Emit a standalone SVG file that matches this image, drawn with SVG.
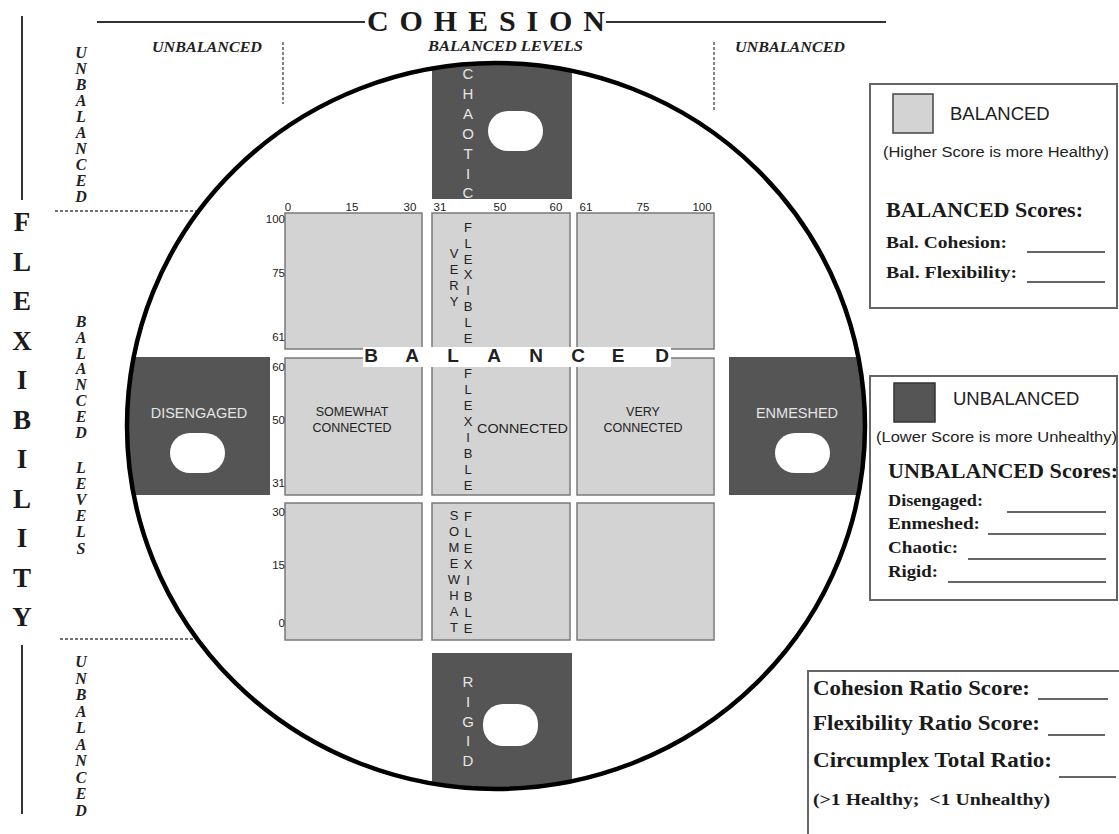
<svg xmlns="http://www.w3.org/2000/svg" width="1119" height="834" viewBox="0 0 1119 834">
<style>
.serif{font-family:"Liberation Serif","Times New Roman",serif;font-weight:bold;fill:#1a1a1a}
.it{font-family:"Liberation Serif","Times New Roman",serif;font-weight:bold;font-style:italic;fill:#222;font-size:15px}
.vit{font-family:"Liberation Serif","Times New Roman",serif;font-weight:bold;font-style:italic;fill:#222;font-size:16px}
.sans{font-family:"Liberation Sans",Arial,sans-serif;fill:#222}
.num{font-family:"Liberation Sans",Arial,sans-serif;fill:#222;font-size:11.5px}
.lt{font-family:"Liberation Sans",Arial,sans-serif;fill:#e4e4e4}
.cell{fill:#d3d3d3;stroke:#7a7a7a;stroke-width:1.5}
.dark{fill:#555555}
.hole{fill:#ffffff}
.dash{stroke:#444;stroke-width:1.3;stroke-dasharray:3,2;fill:none}
.rule{stroke:#333;stroke-width:2;fill:none}
.box{fill:#ffffff;stroke:#666;stroke-width:2}
.blank{stroke:#333;stroke-width:1.3}
</style>
<defs>
<clipPath id="circ"><ellipse cx="496" cy="426" rx="369" ry="363"/></clipPath>
</defs>
<rect width="1119" height="834" fill="#ffffff"/>

<!-- Axis titles -->
<g id="cohesion-title">
<line class="rule" x1="97" y1="22" x2="365" y2="22"/>
<line class="rule" x1="606" y1="22" x2="886" y2="22"/>
<text class="serif" x="367" y="31" font-size="30" textLength="238" lengthAdjust="spacing">COHESION</text>
</g>
<g id="cohesion-levels">
<text class="it" x="152" y="52" textLength="110" lengthAdjust="spacingAndGlyphs">UNBALANCED</text>
<text class="it" x="428" y="51" textLength="155" lengthAdjust="spacingAndGlyphs">BALANCED LEVELS</text>
<text class="it" x="735" y="52" textLength="110" lengthAdjust="spacingAndGlyphs">UNBALANCED</text>
<line class="dash" x1="283" y1="42" x2="283" y2="104"/>
<line class="dash" x1="714" y1="42" x2="714" y2="112"/>
</g>
<g id="flexibility-title">
<line class="rule" x1="22" y1="16" x2="22" y2="200"/>
<line class="rule" x1="22" y1="645" x2="22" y2="814" stroke="#666"/>
<text class="serif" font-size="27" text-anchor="middle" x="22 22 22 22 22 22 22 22 22 22 22" y="231 270.5 310 349.5 389 428.5 468 507.5 547 586.5 626">FLEXIBILITY</text>
</g>
<g id="flexibility-levels">
<text class="vit" text-anchor="middle" x="81 81 81 81 81 81 81 81 81 81" y="58 74 90 106 122 138 154 170 186 202">UNBALANCED</text>
<line class="dash" x1="55" y1="211" x2="196" y2="211"/>
<text class="vit" text-anchor="middle" x="81 81 81 81 81 81 81 81" y="327 342.8 358.6 374.4 390.2 406 421.8 437.6">BALANCED</text>
<text class="vit" text-anchor="middle" x="81 81 81 81 81 81" y="473 489 505 521 537 554">LEVELS</text>
<line class="dash" x1="60" y1="639" x2="194" y2="639"/>
<text class="vit" text-anchor="middle" x="81 81 81 81 81 81 81 81 81 81" y="667 683.5 700 716.5 733 749.5 766 782.5 799 815.5">UNBALANCED</text>
</g>

<!-- Unbalanced outer regions -->
<g id="chaotic" clip-path="url(#circ)">
<rect class="dark" x="432" y="55" width="140" height="144"/>
<rect class="hole" x="488" y="111" width="55" height="40" rx="20" ry="20"/>
<text class="lt" font-size="15" text-anchor="middle" x="468 468 468 468 468 468 468" y="79 99 119 139 159 179 198">CHAOTIC</text>
</g>
<g id="rigid" clip-path="url(#circ)">
<rect class="dark" x="432" y="653" width="140" height="150"/>
<rect class="hole" x="483" y="704" width="55" height="42" rx="20" ry="20"/>
<text class="lt" font-size="15" text-anchor="middle" x="468 468 468 468 468" y="687 707 727 746 766">RIGID</text>
</g>
<g id="disengaged" clip-path="url(#circ)">
<rect class="dark" x="120" y="357" width="150" height="138"/>
<rect class="hole" x="170" y="433" width="55" height="40" rx="20" ry="20"/>
<text class="lt" font-size="14.5" text-anchor="middle" x="199" y="418">DISENGAGED</text>
</g>
<g id="enmeshed" clip-path="url(#circ)">
<rect class="dark" x="729" y="357" width="150" height="138"/>
<rect class="hole" x="775" y="433" width="55" height="40" rx="20" ry="20"/>
<text class="lt" font-size="14.5" text-anchor="middle" x="797" y="418">ENMESHED</text>
</g>

<g id="circle">
<ellipse cx="496" cy="426" rx="369" ry="363" fill="none" stroke="#000" stroke-width="4.5"/>
</g>

<!-- Balanced grid -->
<g id="grid-r1c1"><rect class="cell" x="285" y="213" width="137" height="136"/></g>
<g id="grid-r1c2"><rect class="cell" x="432" y="213" width="138" height="136"/>
<text class="sans" font-size="13" text-anchor="middle" x="454 454 454 454" y="258 274 290 306">VERY</text>
<text class="sans" font-size="13" text-anchor="middle" x="468 468 468 468 468 468 468 468" y="232 247.8 263.6 279.4 295.2 311 326.8 342.6">FLEXIBLE</text>
</g>
<g id="grid-r1c3"><rect class="cell" x="577" y="213" width="137" height="136"/></g>
<g id="grid-r2c1"><rect class="cell" x="285" y="358" width="137" height="137"/>
<text class="sans" font-size="12.5" text-anchor="middle" x="352" y="416">SOMEWHAT</text>
<text class="sans" font-size="12.5" text-anchor="middle" x="352" y="432">CONNECTED</text>
</g>
<g id="grid-r2c2"><rect class="cell" x="432" y="358" width="138" height="137"/>
<text class="sans" font-size="13" text-anchor="middle" x="468 468 468 468 468 468 468 468" y="378 394 410 426 442 458 474 490">FLEXIBLE</text>
<text class="sans" font-size="13" x="477" y="433" textLength="91" lengthAdjust="spacingAndGlyphs">CONNECTED</text>
</g>
<g id="grid-r2c3"><rect class="cell" x="577" y="358" width="137" height="137"/>
<text class="sans" font-size="12.5" text-anchor="middle" x="643" y="416">VERY</text>
<text class="sans" font-size="12.5" text-anchor="middle" x="643" y="432">CONNECTED</text>
</g>
<g id="grid-r3c1"><rect class="cell" x="285" y="503" width="137" height="137"/></g>
<g id="grid-r3c2"><rect class="cell" x="432" y="503" width="138" height="137"/>
<text class="sans" font-size="13" text-anchor="middle" x="454 454 454 454 454 454 454 454" y="520 536 552 568 584 600 616 632">SOMEWHAT</text>
<text class="sans" font-size="13" text-anchor="middle" x="468 468 468 468 468 468 468 468" y="521 537 553 569 585 601 617 633">FLEXIBLE</text>
</g>
<g id="grid-r3c3"><rect class="cell" x="577" y="503" width="137" height="137"/></g>

<g id="balanced-band">
<rect x="363" y="347" width="308" height="20" fill="#ffffff"/>
<text class="sans" font-size="19" font-weight="bold" fill="#111" text-anchor="middle" x="371 412 453 494 536 578 618 662" y="362">BALANCED</text>
</g>

<g id="axis-numbers">
<text class="num" text-anchor="middle" x="288" y="211">0</text>
<text class="num" text-anchor="middle" x="352" y="211">15</text>
<text class="num" text-anchor="middle" x="410" y="211">30</text>
<text class="num" text-anchor="middle" x="440" y="211">31</text>
<text class="num" text-anchor="middle" x="500" y="211">50</text>
<text class="num" text-anchor="middle" x="556" y="211">60</text>
<text class="num" text-anchor="middle" x="586" y="211">61</text>
<text class="num" text-anchor="middle" x="643" y="211">75</text>
<text class="num" text-anchor="middle" x="702" y="211">100</text>
<text class="num" text-anchor="end" x="285" y="223">100</text>
<text class="num" text-anchor="end" x="285" y="277">75</text>
<text class="num" text-anchor="end" x="285" y="341">61</text>
<text class="num" text-anchor="end" x="285" y="371">60</text>
<text class="num" text-anchor="end" x="285" y="424">50</text>
<text class="num" text-anchor="end" x="285" y="487">31</text>
<text class="num" text-anchor="end" x="285" y="516">30</text>
<text class="num" text-anchor="end" x="285" y="569">15</text>
<text class="num" text-anchor="end" x="285" y="627">0</text>
</g>

<!-- Legends -->
<g id="legend-balanced">
<rect class="box" x="870" y="84" width="247" height="224"/>
<rect x="893" y="94" width="40" height="39" fill="#d3d3d3" stroke="#444" stroke-width="1.5"/>
<text class="sans" font-size="18.5" fill="#333" x="950" y="120">BALANCED</text>
<text class="sans" font-size="14" fill="#333" x="883" y="157" textLength="226" lengthAdjust="spacingAndGlyphs">(Higher Score is more Healthy)</text>
<text class="serif" font-size="21" x="886" y="217" textLength="197" lengthAdjust="spacingAndGlyphs">BALANCED Scores:</text>
<text class="serif" font-size="16.5" x="886" y="248" textLength="121" lengthAdjust="spacingAndGlyphs">Bal. Cohesion:</text>
<line class="blank" x1="1027" y1="252" x2="1105" y2="252"/>
<text class="serif" font-size="16.5" x="886" y="278" textLength="131" lengthAdjust="spacingAndGlyphs">Bal. Flexibility:</text>
<line class="blank" x1="1027" y1="282" x2="1105" y2="282"/>
</g>
<g id="legend-unbalanced">
<rect class="box" x="870" y="376" width="247" height="224"/>
<rect x="894" y="383" width="41" height="39" fill="#555" stroke="#333" stroke-width="1.5"/>
<text class="sans" font-size="18.5" fill="#333" x="953" y="405">UNBALANCED</text>
<text class="sans" font-size="14" fill="#333" x="876" y="442" textLength="241" lengthAdjust="spacingAndGlyphs">(Lower Score is more Unhealthy)</text>
<text class="serif" font-size="21" x="888" y="478" textLength="230" lengthAdjust="spacingAndGlyphs">UNBALANCED Scores:</text>
<text class="serif" font-size="17" x="888" y="506" textLength="95" lengthAdjust="spacingAndGlyphs">Disengaged:</text>
<line class="blank" x1="1007" y1="512" x2="1106" y2="512"/>
<text class="serif" font-size="17" x="888" y="529" textLength="92" lengthAdjust="spacingAndGlyphs">Enmeshed:</text>
<line class="blank" x1="988" y1="534" x2="1106" y2="534"/>
<text class="serif" font-size="17" x="888" y="553" textLength="70" lengthAdjust="spacingAndGlyphs">Chaotic:</text>
<line class="blank" x1="968" y1="559" x2="1106" y2="559"/>
<text class="serif" font-size="17" x="888" y="577" textLength="50" lengthAdjust="spacingAndGlyphs">Rigid:</text>
<line class="blank" x1="948" y1="582" x2="1106" y2="582"/>
</g>
<g id="ratio-box">
<rect class="box" x="808" y="671" width="330" height="200"/>
<text class="serif" font-size="20" x="813" y="695" textLength="217" lengthAdjust="spacingAndGlyphs">Cohesion Ratio Score:</text>
<line class="blank" x1="1038" y1="699" x2="1108" y2="699"/>
<text class="serif" font-size="20" x="813" y="730" textLength="227" lengthAdjust="spacingAndGlyphs">Flexibility Ratio Score:</text>
<line class="blank" x1="1048" y1="735" x2="1105" y2="735"/>
<text class="serif" font-size="20" x="813" y="767" textLength="239" lengthAdjust="spacingAndGlyphs">Circumplex Total Ratio:</text>
<line class="blank" x1="1059" y1="777" x2="1116" y2="777"/>
<text class="serif" font-size="16" x="813" y="805" textLength="237" lengthAdjust="spacingAndGlyphs">(&gt;1 Healthy;&#160; &lt;1 Unhealthy)</text>
</g>
</svg>
